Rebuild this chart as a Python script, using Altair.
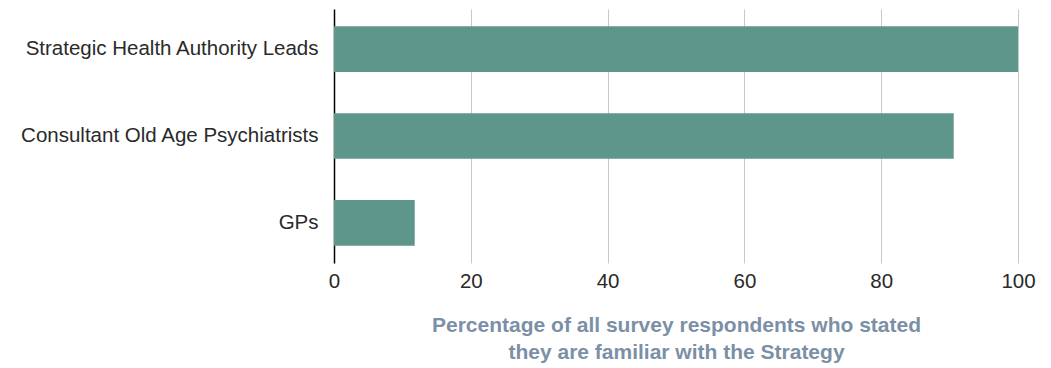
import altair as alt
import pandas as pd

categories = ["Strategic Health Authority Leads", "Consultant Old Age Psychiatrists", "GPs"]
values = [100, 90.6, 11.8]

df = pd.DataFrame({"group": categories, "pct": values})

FONT = "Liberation Sans"

chart = alt.Chart(df).mark_bar(color="#5f968b").encode(
    x=alt.X("pct:Q",
            scale=alt.Scale(domain=[0, 100], nice=False),
            axis=alt.Axis(values=[0, 20, 40, 60, 80, 100], grid=True, gridColor="#c8c8c8",
                          gridWidth=1, domain=False, ticks=False, labelPadding=8,
                          labelFlush=False,
                          labelFontSize=20.5, labelColor="#2a2a2a", labelFont=FONT,
                          title=["Percentage of all survey respondents who stated",
                                 "they are familiar with the Strategy"],
                          titleFontSize=21, titleFont=FONT, titleFontWeight="bold",
                          titleColor="#7b90a6", titlePadding=23, titleLineHeight=27)),
    y=alt.Y("group:N", sort=categories,
            scale=alt.Scale(paddingInner=0.474, paddingOuter=0.2),
            axis=alt.Axis(title=None, domain=True, domainColor="#000000", domainWidth=1.5,
                          ticks=False, labelPadding=16, labelFontSize=20.5,
                          labelColor="#2a2a2a", labelFont=FONT,
                          labelLimit=400))
).properties(
    width=684, height=254,
    autosize=alt.AutoSizeParams(type="none"),
    padding={"left": 334, "top": 9, "right": 33, "bottom": 105}
).configure_view(stroke=None)

chart.save("out.html", embed_options={"renderer": "svg", "actions": False})
